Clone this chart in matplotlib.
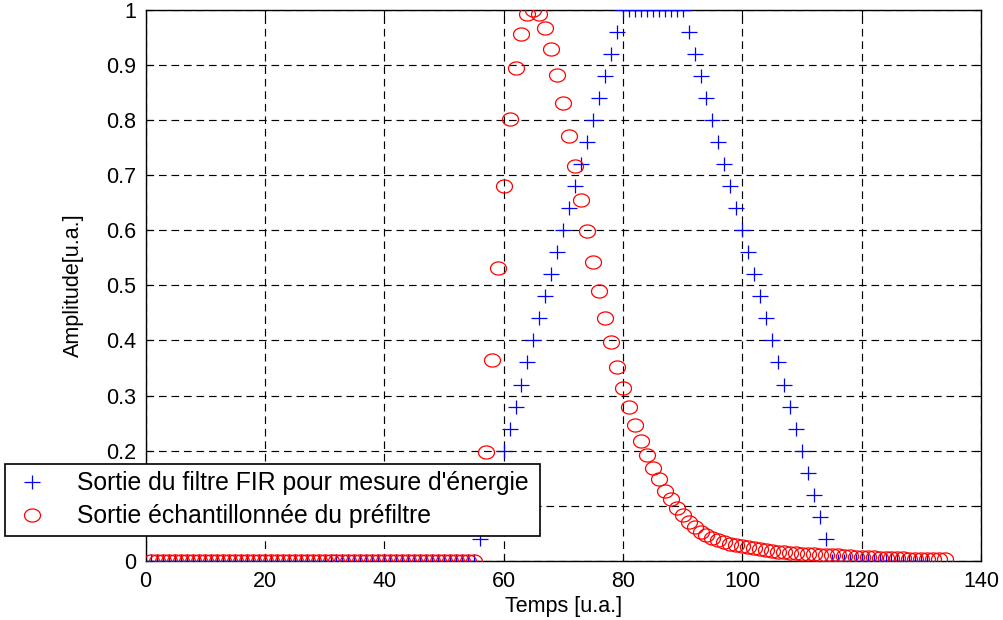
import numpy as np
import matplotlib
matplotlib.use("Agg")
import matplotlib.pyplot as plt
from matplotlib.path import Path

# --- data -------------------------------------------------------------
# Output of the trapezoidal FIR energy filter (one value per sample)
fir_output = [
    0, 0, 0, 0, 0, 0, 0, 0, 0, 0, 0, 0, 0, 0, 0, 0, 0, 0, 0, 0,
    0, 0, 0, 0, 0, 0, 0, 0, 0, 0, 0, 0, 0, 0, 0, 0, 0, 0, 0, 0,
    0, 0, 0, 0, 0, 0, 0, 0, 0, 0, 0, 0, 0, 0, 0,
    0.04, 0.08, 0.12, 0.16, 0.20, 0.24, 0.28, 0.32, 0.36, 0.40,
    0.44, 0.48, 0.52, 0.56, 0.60, 0.64, 0.68, 0.72, 0.76, 0.80,
    0.84, 0.88, 0.92, 0.96,
    1.00, 1.00, 1.00, 1.00, 1.00, 1.00, 1.00, 1.00, 1.00, 1.00, 1.00,
    0.96, 0.92, 0.88, 0.84, 0.80, 0.76, 0.72, 0.68, 0.64, 0.60,
    0.56, 0.52, 0.48, 0.44, 0.40, 0.36, 0.32, 0.28, 0.24, 0.20,
    0.16, 0.12, 0.08, 0.04,
    0, 0, 0, 0, 0, 0, 0, 0, 0, 0, 0, 0, 0, 0, 0, 0, 0,
]

# Sampled output of the pre-filter (shaper)
prefilter_output = [
    0, 0, 0, 0, 0, 0, 0, 0, 0, 0, 0, 0, 0, 0, 0, 0, 0, 0, 0, 0,
    0, 0, 0, 0, 0, 0, 0, 0, 0, 0, 0, 0, 0, 0, 0, 0, 0, 0, 0, 0,
    0, 0, 0, 0, 0, 0, 0, 0, 0, 0, 0, 0, 0, 0, 0,
    0.06, 0.197, 0.364, 0.531, 0.680, 0.801, 0.894, 0.956, 0.991, 1.000,
    0.991, 0.967, 0.929, 0.882, 0.830, 0.771, 0.716, 0.654, 0.599, 0.542,
    0.490, 0.441, 0.397, 0.352, 0.314, 0.279, 0.246, 0.218, 0.192, 0.169,
    0.148, 0.127, 0.112, 0.096, 0.083, 0.071, 0.062, 0.053, 0.047, 0.042,
    0.038, 0.034, 0.031, 0.029, 0.027, 0.025, 0.023, 0.021, 0.020, 0.019,
    0.017, 0.016, 0.015, 0.014, 0.013, 0.012, 0.012, 0.011, 0.011, 0.010,
    0.010, 0.009, 0.009, 0.008, 0.008, 0.007, 0.007, 0.006, 0.006, 0.005,
    0.005, 0.005, 0.004, 0.004, 0.004, 0.003, 0.003, 0.003, 0.003,
]

t_fir = np.arange(1, len(fir_output) + 1)
t_pre = np.arange(1, len(prefilter_output) + 1)

x_ticks = [0, 20, 40, 60, 80, 100, 120, 140]
y_ticks = [0, 0.1, 0.2, 0.3, 0.4, 0.5, 0.6, 0.7, 0.8, 0.9, 1]
y_ticklabels = ["0", "0.1", "0.2", "0.3", "0.4", "0.5", "0.6", "0.7", "0.8", "0.9", "1"]

label_fir = "Sortie du filtre FIR pour mesure d'énergie"
label_pre = "Sortie échantillonnée du préfiltre"

# --- style ------------------------------------------------------------
plt.rcParams["font.family"] = ["Liberation Sans", "DejaVu Sans"]
plt.rcParams["lines.scale_dashes"] = False

# slightly wide plus and ellipse markers
plus_marker = Path([(-0.5, 0), (0.5, 0), (0, -0.45), (0, 0.45)],
                   [Path.MOVETO, Path.LINETO, Path.MOVETO, Path.LINETO])
_th = np.linspace(0, 2 * np.pi, 61)
ring_marker = Path(np.column_stack([0.5 * np.cos(_th), 0.41 * np.sin(_th)]))

fig = plt.figure(figsize=(10.04, 6.2), dpi=100)
ax = fig.add_axes([145.5 / 1004, 1 - 561 / 620, (981 - 145.5) / 1004, (561 - 9.5) / 620])

ax.plot(t_fir, fir_output, linestyle="none", marker=plus_marker,
        markersize=11.3, markeredgewidth=0.9, color=(0, 0, 1),
        markerfacecolor="none", label=label_fir, zorder=3)
ax.plot(t_pre, prefilter_output, linestyle="none", marker=ring_marker,
        markersize=11.5, markeredgewidth=0.9, color=(1, 0, 0),
        markerfacecolor="none", label=label_pre, zorder=4)

ax.set_xlim(0, 140)
ax.set_ylim(0, 1)
ax.set_xticks(x_ticks)
ax.set_yticks(y_ticks)
ax.set_yticklabels(y_ticklabels)
ax.tick_params(direction="in", length=5, width=0.8, top=True, right=True,
               labelsize=15.5, pad=7, colors="k")
ax.grid(True, color="k", linestyle=(0, (5.5, 3.5)), linewidth=0.85)
ax.set_axisbelow(False)
for sp in ax.spines.values():
    sp.set_linewidth(1.0)
    sp.set_color("k")

ax.set_xlabel("Temps [u.a.]", fontsize=15.5)
ax.set_ylabel("Amplitude[u.a.]", fontsize=15.5)
ax.xaxis.set_label_coords(0.5, -(596 - 561) / 551.5)
ax.yaxis.set_label_coords(-(145.5 - 84) / 835.5, 0.5)

# legend box spans from the figure's left margin to x ~ 540 px
leg_left, leg_top, leg_right = 5, 464, 540
leg = ax.legend(loc="upper left",
                bbox_to_anchor=(leg_left / 1004, 1 - leg_top / 620,
                                (leg_right - leg_left) / 1004, 0.0),
                bbox_transform=fig.transFigure, borderaxespad=0, mode="expand",
                fontsize=17.8, frameon=True, fancybox=False, framealpha=1,
                edgecolor="k", handlelength=1.55, handletextpad=1.05,
                borderpad=0.3, labelspacing=0.36)
leg.get_frame().set_linewidth(1.2)

fig.savefig("out.png", dpi=100)
